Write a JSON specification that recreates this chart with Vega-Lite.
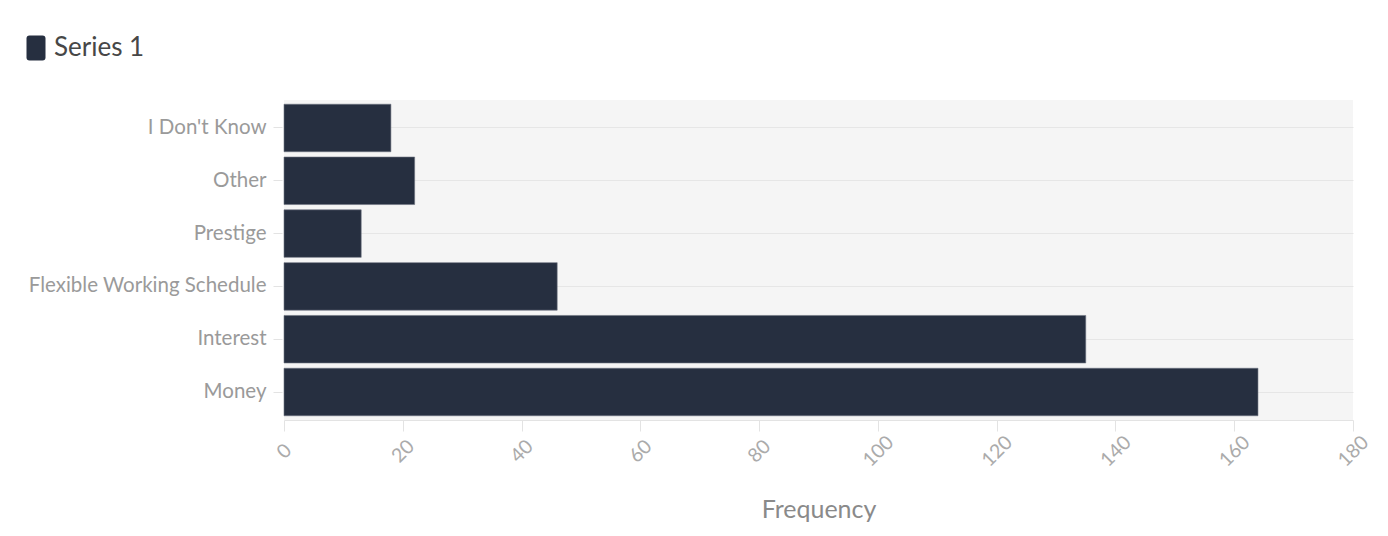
{
  "$schema": "https://vega.github.io/schema/vega-lite/v6.json",
  "width": 1069,
  "height": 320,
  "autosize": {"type": "none"},
  "padding": {"left": 284, "top": 100, "right": 35, "bottom": 116},
  "background": "#ffffff",
  "config": {
    "font": "Lato",
    "view": {"fill": "#f5f5f5", "stroke": null}
  },
  "data": {
    "values": [
      {"reason": "I Don't Know", "frequency": 18, "series": "Series 1"},
      {"reason": "Other", "frequency": 22, "series": "Series 1"},
      {"reason": "Prestige", "frequency": 13, "series": "Series 1"},
      {"reason": "Flexible Working Schedule", "frequency": 46, "series": "Series 1"},
      {"reason": "Interest", "frequency": 135, "series": "Series 1"},
      {"reason": "Money", "frequency": 164, "series": "Series 1"}
    ]
  },
  "mark": {"type": "bar", "stroke": "#6b7280", "strokeWidth": 0.6},
  "encoding": {
    "y": {
      "field": "reason",
      "type": "nominal",
      "sort": null,
      "scale": {"paddingInner": 0.1, "paddingOuter": 0.08},
      "axis": {
        "title": null,
        "labelFontSize": 20.5,
        "labelColor": "#9a9a9a",
        "labelPadding": 7,
        "offset": 2,
        "tickSize": 9,
        "tickColor": "#e3e3e3",
        "domain": false,
        "grid": true,
        "gridColor": "#e6e6e6",
        "bandPosition": 0.5,
        "labelLimit": 400
      }
    },
    "x": {
      "field": "frequency",
      "type": "quantitative",
      "scale": {"domain": [0, 180], "nice": false},
      "axis": {
        "title": "Frequency",
        "values": [0, 20, 40, 60, 80, 100, 120, 140, 160, 180],
        "grid": false,
        "domain": true,
        "domainColor": "#e3e3e3",
        "tickColor": "#e3e3e3",
        "tickSize": 11,
        "labelAngle": -45,
        "labelAlign": "center",
        "labelBaseline": "middle",
        "labelPadding": 20,
        "labelFontSize": 19.5,
        "labelColor": "#ababab",
        "titleFontSize": 25,
        "titleFontWeight": "normal",
        "titleColor": "#8a8a8a",
        "titleY": 97,
        "titleBaseline": "alphabetic"
      }
    },
    "color": {
      "field": "series",
      "type": "nominal",
      "scale": {"range": ["#262f40"]},
      "legend": {
        "title": null,
        "orient": "none",
        "legendX": -261,
        "legendY": -65,
        "padding": 0,
        "symbolType": "M -0.52,-1 L 0.52,-1 Q 0.76,-1 0.76,-0.76 L 0.76,0.76 Q 0.76,1 0.52,1 L -0.52,1 Q -0.76,1 -0.76,0.76 L -0.76,-0.76 Q -0.76,-1 -0.52,-1 Z",
        "symbolSize": 625,
        "symbolStrokeWidth": 0,
        "symbolFillColor": "#141c2c",
        "labelFontSize": 26,
        "labelColor": "#474747",
        "labelOffset": 5,
        "encode": {"symbols": {"update": {"fill": {"value": "#141c2c"}, "stroke": {"value": "#141c2c"}}}}
      }
    }
  }
}
